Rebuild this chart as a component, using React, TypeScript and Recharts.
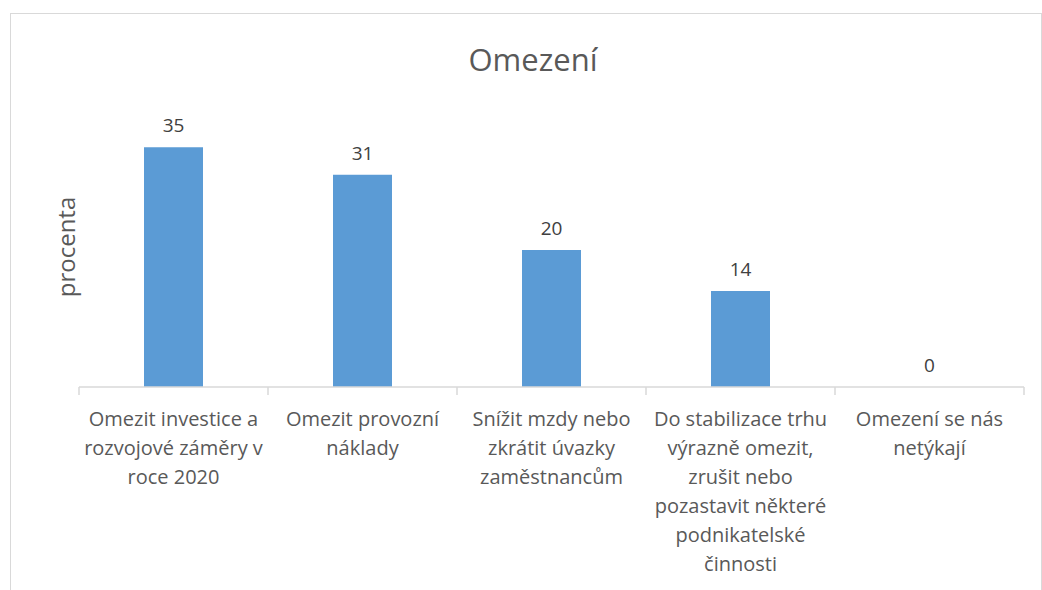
import { ComposedChart, Bar, Line, XAxis, YAxis, LabelList } from "recharts"

const categories = [
  "Omezit investice a\nrozvojové záměry v\nroce 2020",
  "Omezit provozní\nnáklady",
  "Snížit mzdy nebo\nzkrátit úvazky\nzaměstnancům",
  "Do stabilizace trhu\nvýrazně omezit,\nzrušit nebo\npozastavit některé\npodnikatelské\nčinnosti",
  "Omezení se nás\nnetýkají",
]
const values = [35, 31, 20, 14, 0]
const boundaryTicks = [0, 1, 2, 3, 4, 5]

const data = categories.map((c, i) => ({ name: c, value: values[i], pos: i + 0.5 }))

const FONT = "'Open Sans', 'Noto Sans', sans-serif"

function CategoryTick(props: any) {
  const { x, y, payload } = props
  const lines = String(payload.value).split("\n")
  return (
    <text x={x} y={y + 30} textAnchor="middle" fill="#595959" fontSize={20} fontFamily={FONT}>
      {lines.map((l, i) => (
        <tspan key={i} x={x} dy={i === 0 ? 0 : 29}>
          {l}
        </tspan>
      ))}
    </text>
  )
}

function NoLabel() {
  return <g />
}

export default function App() {
  return (
    <div style={{ position: "fixed", inset: 0, overflow: "hidden", background: "#fff" }}>
      <div
        style={{
          position: "absolute",
          left: 10,
          top: 13,
          width: 1030,
          height: 620,
          border: "1px solid #d9d9d9",
        }}
      />
      <div
        style={{
          position: "absolute",
          left: 0,
          width: 1066,
          top: 38,
          textAlign: "center",
          fontFamily: FONT,
          fontSize: 31,
          color: "#595959",
        }}
      >
        Omezení
      </div>
      <div
        style={{
          position: "absolute",
          left: 65,
          top: 247,
          transform: "translate(-50%, -50%) rotate(-90deg)",
          fontFamily: FONT,
          fontSize: 24,
          color: "#595959",
          whiteSpace: "nowrap",
        }}
      >
        procenta
      </div>
      <div style={{ position: "absolute", left: 0, top: 0 }}>
        <ComposedChart
          width={1042}
          height={590}
          data={data}
          margin={{ top: 113, right: 18, bottom: 0, left: 79 }}
        >
          <XAxis
            xAxisId="base"
            type="number"
            dataKey="pos"
            domain={[0, 5]}
            ticks={boundaryTicks}
            height={1}
            tick={<NoLabel />}
            tickSize={8}
            axisLine={{ stroke: "#d9d9d9", strokeWidth: 1.5 }}
            tickLine={{ stroke: "#d9d9d9", strokeWidth: 1.5 }}
          />
          <XAxis
            xAxisId="cat"
            dataKey="name"
            height={202}
            interval={0}
            axisLine={false}
            tickLine={false}
            tick={<CategoryTick />}
          />
          <YAxis hide domain={[0, 40]} />
          <Bar xAxisId="cat" dataKey="value" fill="#5b9bd5" barSize={59} isAnimationActive={false} />
          <Line
            xAxisId="base"
            dataKey="value"
            stroke="none"
            dot={false}
            activeDot={false}
            isAnimationActive={false}
          >
            <LabelList
              dataKey="value"
              position="top"
              offset={15}
              fill="#404040"
              fontSize={19}
              fontFamily={FONT}
            />
          </Line>
        </ComposedChart>
      </div>
    </div>
  )
}
